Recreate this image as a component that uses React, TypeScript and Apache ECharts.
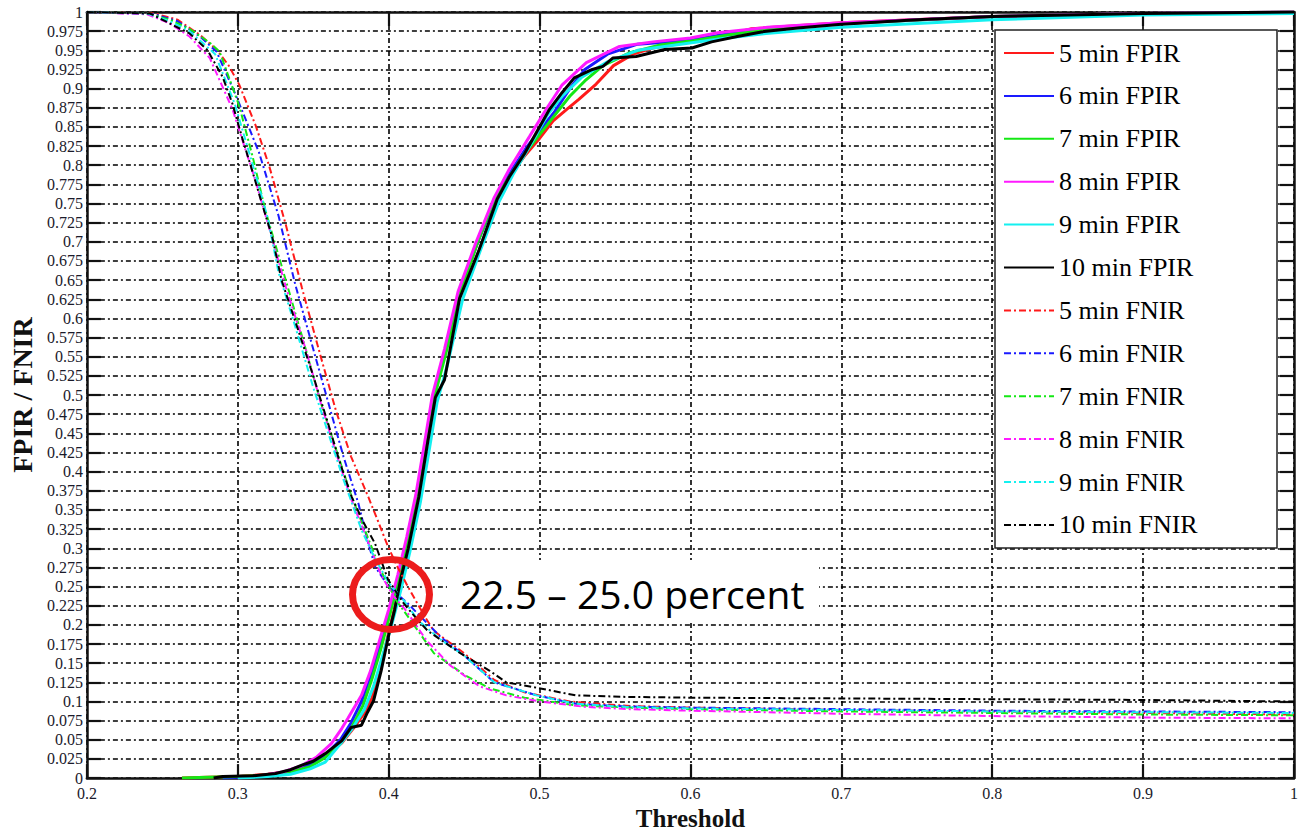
import React, { useEffect, useRef } from "react";
import * as echarts from "echarts";

const xTickValues = [0.2, 0.3, 0.4, 0.5, 0.6, 0.7, 0.8, 0.9, 1.0];
const seriesNames = [
  "5 min FPIR", "6 min FPIR", "7 min FPIR", "8 min FPIR", "9 min FPIR", "10 min FPIR",
  "5 min FNIR", "6 min FNIR", "7 min FNIR", "8 min FNIR", "9 min FNIR", "10 min FNIR",
];
const seriesColors = ["#ff1a1a", "#1a1aff", "#14e814", "#ff1aff", "#14f0f0", "#000000"];

// FPIR curves: [threshold, rate]
const fpir5 = [[0.263,0],[0.28,0.001],[0.3,0.002],[0.32,0.005],[0.335,0.009],[0.348,0.016],[0.358,0.028],[0.369,0.046],[0.377,0.066],[0.384,0.085],[0.389,0.105],[0.395,0.148],[0.4,0.19],[0.405,0.23],[0.41,0.275],[0.416,0.335],[0.421,0.39],[0.426,0.45],[0.431,0.505],[0.44,0.58],[0.448,0.64],[0.46,0.705],[0.47,0.755],[0.48,0.785],[0.49,0.812],[0.5,0.835],[0.509,0.858],[0.518,0.873],[0.526,0.886],[0.5375,0.906],[0.549,0.93],[0.562,0.945],[0.575,0.953],[0.597,0.96],[0.62,0.968],[0.64,0.978],[0.7,0.986],[0.8,0.994],[0.9,0.998],[1,1]];
const fpir6 = [[0.29,0],[0.31,0.002],[0.33,0.006],[0.345,0.015],[0.358,0.03],[0.368,0.05],[0.375,0.072],[0.382,0.1],[0.389,0.14],[0.395,0.18],[0.401,0.22],[0.407,0.265],[0.413,0.315],[0.419,0.37],[0.425,0.44],[0.43,0.5],[0.438,0.56],[0.448,0.64],[0.46,0.705],[0.472,0.76],[0.482,0.795],[0.492,0.825],[0.5,0.845],[0.51,0.87],[0.52,0.9],[0.53,0.925],[0.545,0.945],[0.565,0.958],[0.6,0.963],[0.62,0.97],[0.65,0.978],[0.7,0.985],[0.8,0.994],[0.9,0.998],[1,1]];
const fpir7 = [[0.263,0],[0.28,0.001],[0.3,0.002],[0.32,0.004],[0.335,0.008],[0.348,0.015],[0.358,0.027],[0.368,0.045],[0.376,0.068],[0.383,0.095],[0.389,0.13],[0.395,0.17],[0.401,0.215],[0.407,0.262],[0.413,0.315],[0.419,0.37],[0.425,0.435],[0.43,0.495],[0.438,0.555],[0.447,0.63],[0.459,0.7],[0.47,0.755],[0.48,0.785],[0.49,0.815],[0.5,0.84],[0.51,0.865],[0.52,0.89],[0.53,0.91],[0.542,0.93],[0.56,0.947],[0.58,0.957],[0.6,0.962],[0.625,0.97],[0.65,0.977],[0.7,0.985],[0.8,0.994],[0.9,0.998],[1,1]];
const fpir8 = [[0.3,0],[0.315,0.003],[0.33,0.008],[0.342,0.016],[0.352,0.027],[0.362,0.045],[0.369,0.065],[0.373,0.078],[0.382,0.108],[0.388,0.14],[0.394,0.18],[0.4,0.22],[0.406,0.265],[0.412,0.315],[0.418,0.37],[0.424,0.44],[0.429,0.5],[0.437,0.56],[0.446,0.635],[0.458,0.7],[0.47,0.758],[0.48,0.795],[0.4935,0.838],[0.505,0.875],[0.515,0.905],[0.531,0.934],[0.553,0.955],[0.575,0.961],[0.6,0.966],[0.618,0.973],[0.651,0.98],[0.7,0.986],[0.8,0.994],[0.9,0.998],[1,1]];
const fpir9 = [[0.3,0],[0.32,0.002],[0.335,0.005],[0.348,0.012],[0.358,0.021],[0.369,0.047],[0.376,0.065],[0.384,0.09],[0.39,0.12],[0.396,0.16],[0.402,0.2],[0.408,0.245],[0.414,0.295],[0.421,0.36],[0.427,0.43],[0.432,0.49],[0.439,0.54],[0.449,0.625],[0.461,0.69],[0.473,0.752],[0.483,0.79],[0.495,0.83],[0.505,0.865],[0.515,0.89],[0.528,0.915],[0.545,0.935],[0.565,0.95],[0.59,0.957],[0.62,0.965],[0.65,0.972],[0.7,0.98],[0.8,0.99],[0.9,0.996],[1,0.998]];
const fpir10 = [[0.284,0],[0.29,0.002],[0.31,0.003],[0.325,0.006],[0.335,0.011],[0.3425,0.017],[0.35,0.022],[0.358,0.032],[0.369,0.049],[0.375,0.066],[0.382,0.069],[0.386,0.086],[0.39,0.101],[0.395,0.14],[0.4009,0.195],[0.404,0.22],[0.408,0.26],[0.413,0.3],[0.42,0.367],[0.426,0.44],[0.431,0.497],[0.437,0.52],[0.447,0.626],[0.46,0.69],[0.472,0.756],[0.48,0.785],[0.49,0.815],[0.498,0.843],[0.5066,0.873],[0.515,0.895],[0.523,0.914],[0.535,0.925],[0.542,0.929],[0.5487,0.94],[0.564,0.942],[0.583,0.951],[0.601,0.953],[0.614,0.961],[0.631,0.968],[0.647,0.974],[0.671,0.979],[0.7,0.984],[0.75,0.99],[0.8,0.994],[0.85,0.996],[0.9,0.998],[1,1]];

// FNIR curves: [threshold, rate]
const fnir5 = [[0.2,1],[0.245,0.998],[0.26,0.99],[0.275,0.97],[0.286,0.951],[0.294,0.93],[0.301,0.905],[0.312,0.851],[0.3208,0.799],[0.332,0.721],[0.3425,0.64],[0.355,0.55],[0.365,0.48],[0.375,0.42],[0.3865,0.367],[0.393,0.335],[0.3996,0.302],[0.406,0.275],[0.4127,0.25],[0.4239,0.211],[0.43,0.192],[0.45,0.163],[0.47,0.128],[0.49,0.112],[0.52,0.1],[0.56,0.094],[0.6,0.092],[0.7,0.089],[0.8,0.087],[0.9,0.085],[1,0.083]];
const fnir6 = [[0.2,1],[0.245,0.997],[0.26,0.988],[0.275,0.968],[0.286,0.948],[0.299,0.89],[0.314,0.817],[0.327,0.734],[0.338,0.645],[0.35,0.56],[0.36,0.49],[0.37,0.42],[0.38,0.358],[0.386,0.31],[0.391,0.276],[0.4,0.25],[0.4127,0.228],[0.434,0.185],[0.45,0.16],[0.47,0.125],[0.498,0.108],[0.524,0.097],[0.557,0.0935],[0.6,0.092],[0.7,0.09],[0.8,0.088],[0.9,0.087],[1,0.086]];
const fnir7 = [[0.2,1],[0.24,0.998],[0.255,0.99],[0.268,0.978],[0.2814,0.96],[0.288,0.948],[0.301,0.877],[0.31,0.81],[0.318,0.743],[0.334,0.635],[0.345,0.56],[0.355,0.49],[0.365,0.43],[0.375,0.37],[0.385,0.32],[0.395,0.27],[0.405,0.232],[0.4127,0.211],[0.43,0.163],[0.45,0.135],[0.467,0.117],[0.49,0.105],[0.524,0.095],[0.56,0.092],[0.6,0.09],[0.7,0.087],[0.8,0.085],[0.9,0.083],[1,0.082]];
const fnir8 = [[0.2,1],[0.24,0.997],[0.255,0.985],[0.268,0.968],[0.2814,0.94],[0.2965,0.873],[0.312,0.778],[0.322,0.71],[0.332,0.64],[0.345,0.56],[0.355,0.49],[0.365,0.425],[0.375,0.365],[0.385,0.315],[0.395,0.265],[0.403,0.238],[0.411,0.22],[0.425,0.18],[0.4408,0.147],[0.46,0.12],[0.478,0.108],[0.5,0.1],[0.53,0.093],[0.56,0.09],[0.6,0.088],[0.7,0.084],[0.8,0.081],[0.9,0.079],[1,0.078]];
const fnir9 = [[0.2,1],[0.24,0.998],[0.255,0.988],[0.268,0.975],[0.285,0.945],[0.298,0.88],[0.31,0.8],[0.32,0.73],[0.327,0.66],[0.338,0.59],[0.35,0.51],[0.36,0.45],[0.37,0.39],[0.382,0.324],[0.39,0.29],[0.4,0.255],[0.41,0.232],[0.42,0.205],[0.435,0.18],[0.45,0.16],[0.47,0.125],[0.498,0.108],[0.524,0.097],[0.557,0.093],[0.6,0.091],[0.7,0.089],[0.8,0.087],[0.9,0.086],[1,0.085]];
const fnir10 = [[0.2,1],[0.242,0.998],[0.255,0.985],[0.268,0.972],[0.28,0.95],[0.29,0.915],[0.2965,0.88],[0.303,0.835],[0.31,0.79],[0.316,0.75],[0.323,0.705],[0.329,0.65],[0.34,0.585],[0.35,0.525],[0.36,0.462],[0.368,0.41],[0.3755,0.367],[0.383,0.335],[0.391,0.306],[0.3996,0.259],[0.41,0.228],[0.419,0.207],[0.426,0.192],[0.4475,0.163],[0.467,0.14],[0.478,0.125],[0.498,0.118],[0.524,0.108],[0.557,0.106],[0.6,0.105],[0.7,0.104],[0.8,0.103],[0.9,0.102],[1,0.1]];

const fpirData = [fpir5, fpir6, fpir7, fpir8, fpir9, fpir10];
const fnirData = [fnir5, fnir6, fnir7, fnir8, fnir9, fnir10];
const annotationText = "22.5 – 25.0 percent";

const SERIF = "'Liberation Serif', 'Times New Roman', serif";

export default function App() {
  const ref = useRef<HTMLDivElement>(null);
  useEffect(() => {
    if (!ref.current) return;
    const chart = echarts.init(ref.current, null, { renderer: "svg" });
    const gridStyle = { color: "#000", width: 1.6, type: [5, 3, 2, 3] as number[] };
    const axisLine = { show: true, onZero: false, lineStyle: { color: "#111", width: 2.5 } };
    const tick = { show: true, inside: true, length: 14, lineStyle: { color: "#111", width: 2.2 } };
    const series: any[] = [];
    fpirData.forEach((d, i) => {
      series.push({
        name: seriesNames[i], type: "line", data: d, symbol: "none", showSymbol: false,
        color: seriesColors[i],
        lineStyle: { color: seriesColors[i], width: 3, type: "solid" },
        itemStyle: { color: seriesColors[i] }, z: 3,
      });
    });
    fnirData.forEach((d, i) => {
      series.push({
        name: seriesNames[i + 6], type: "line", data: d, symbol: "none", showSymbol: false,
        color: seriesColors[i],
        lineStyle: { color: seriesColors[i], width: 2, type: [7, 3, 2, 3] },
        itemStyle: { color: seriesColors[i] }, z: 3,
      });
    });
    chart.setOption({
      animation: false,
      backgroundColor: "#ffffff",
      grid: { left: 76, right: 8, top: 12, bottom: 53, containLabel: false },
      xAxis: [
        {
          type: "value", position: "bottom", min: 0.2, max: 1, interval: 0.1,
          name: "Threshold", nameLocation: "middle", nameGap: 22,
          nameTextStyle: { fontFamily: SERIF, fontSize: 25, fontWeight: "bold", color: "#111" },
          axisLine, axisTick: tick,
          axisLabel: {
            margin: 7, fontFamily: SERIF, fontSize: 16, color: "#1a1a2a",
            formatter: (v: number) => String(parseFloat(v.toFixed(2))),
          },
          splitLine: { show: true, lineStyle: gridStyle },
        },
        {
          type: "value", position: "top", min: 0.2, max: 1, interval: 0.1,
          axisLine, axisTick: tick, axisLabel: { show: false }, splitLine: { show: false },
        },
      ],
      yAxis: [
        {
          type: "value", position: "left", min: 0, max: 1, interval: 0.025,
          name: "FPIR / FNIR", nameLocation: "middle", nameGap: 46, nameRotate: 90,
          nameTextStyle: { fontFamily: SERIF, fontSize: 28, fontWeight: "bold", color: "#111" },
          axisLine, axisTick: tick,
          axisLabel: {
            margin: 4, fontFamily: SERIF, fontSize: 16, color: "#1a1a2a",
            formatter: (v: number) => String(parseFloat(v.toFixed(3))),
          },
          splitLine: { show: true, lineStyle: gridStyle },
        },
        {
          type: "value", position: "right", min: 0, max: 1, interval: 0.025,
          axisLine, axisTick: tick, axisLabel: { show: false }, splitLine: { show: false },
        },
      ],
      legend: {
        orient: "vertical", left: 995, top: 30,
        padding: [8, 8, 8, 8], itemGap: 12.9, itemWidth: 50, itemHeight: 14,
        data: seriesNames, selectedMode: false, z: 6,
        itemStyle: { opacity: 0 },
        textStyle: { fontFamily: SERIF, fontSize: 26, color: "#000", lineHeight: 30 },
      },
      graphic: [
        {
          type: "rect", z: 5, shape: { x: 995, y: 30, width: 282, height: 518 },
          style: { fill: "#fff", stroke: "#222", lineWidth: 1.5 },
        },
        {
          type: "rect", z: 5, shape: { x: 447, y: 560, width: 372, height: 60 },
          style: { fill: "#fff" },
        },
        {
          type: "text", z: 7, x: 460, y: 593,
          style: { text: annotationText, fontFamily: "'Open Sans', sans-serif", fontSize: 39, fill: "#000", verticalAlign: "middle" },
        },
        {
          type: "ellipse", z: 8, shape: { cx: 391, cy: 594.5, rx: 38.5, ry: 35 },
          style: { fill: "none", stroke: "#ec1c1c", lineWidth: 7 },
        },
      ],
      series,
    });
    return () => chart.dispose();
  }, []);
  return <div ref={ref} style={{ position: "fixed", left: 0, top: 0, width: 1302, height: 836 }} />;
}
